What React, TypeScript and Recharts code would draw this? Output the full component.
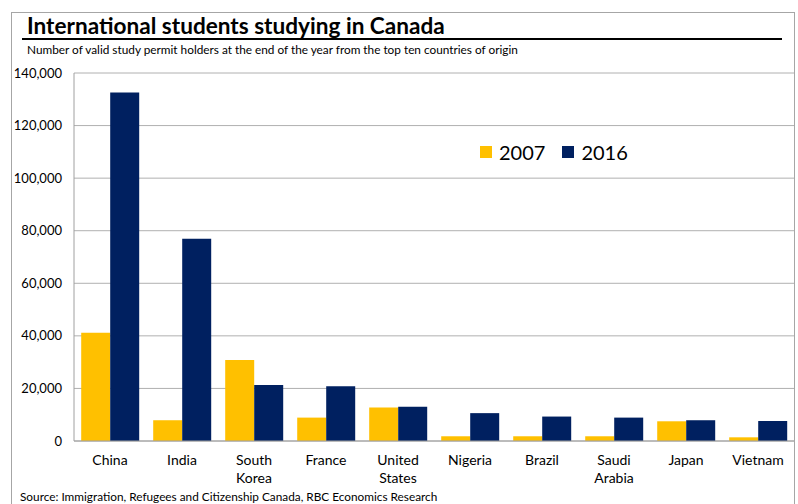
import { BarChart, Bar, XAxis, YAxis, CartesianGrid } from "recharts";

const countries = [
  "China",
  "India",
  "South Korea",
  "France",
  "United States",
  "Nigeria",
  "Brazil",
  "Saudi Arabia",
  "Japan",
  "Vietnam",
];
const students2007 = [41200, 7900, 30800, 8900, 12700, 1800, 1800, 1800, 7500, 1400];
const students2016 = [132600, 76900, 21300, 20800, 13000, 10600, 9300, 8900, 7900, 7600];
const yTicks = [0, 20000, 40000, 60000, 80000, 100000, 120000, 140000];
const seriesNames = ["2007", "2016"];
const seriesColors = ["#FFC000", "#002060"];

const data = countries.map((c, i) => ({
  country: c,
  y2007: students2007[i],
  y2016: students2016[i],
}));

const FONT = "Lato, 'Open Sans', sans-serif";

function CountryTick(props: any) {
  const { x, y, payload } = props;
  const lines = String(payload.value).split(" ");
  return (
    <text x={x} y={y + 16} textAnchor="middle" fontSize={14} fill="#000" fontFamily={FONT}>
      {lines.map((l, i) => (
        <tspan key={i} x={x} dy={i === 0 ? 0 : 18}>
          {l}
        </tspan>
      ))}
    </text>
  );
}

export default function App() {
  return (
    <div
      style={{
        position: "absolute",
        left: 0,
        top: 0,
        width: 798,
        height: 504,
        background: "#fff",
        overflow: "hidden",
        fontFamily: FONT,
      }}
    >
      {/* frame */}
      <div
        style={{
          position: "absolute",
          left: 11,
          top: 12,
          width: 782,
          height: 520,
          border: "1px solid #a6a6a6",
        }}
      />

      <div
        style={{
          position: "absolute",
          left: 27,
          top: 13,
          fontSize: 22.6,
          fontWeight: 700,
          color: "#000",
          lineHeight: "25px",
        }}
      >
        International students studying in Canada
      </div>
      <div
        style={{
          position: "absolute",
          left: 22,
          top: 38,
          width: 760,
          height: 2,
          background: "#000",
        }}
      />
      <div
        style={{
          position: "absolute",
          left: 27,
          top: 42,
          fontSize: 11.8,
          color: "#000",
          lineHeight: "15px",
        }}
      >
        Number of valid study permit holders at the end of the year from the top ten countries of origin
      </div>

      <div style={{ position: "absolute", left: 0, top: 0 }}>
        <BarChart
          width={798}
          height={504}
          data={data}
          margin={{ top: 73, right: 4, left: 0, bottom: 0 }}
          barCategoryGap="10%"
          barGap={0}
        >
          <CartesianGrid vertical={false} stroke="#b0b0b0" />
          <XAxis
            dataKey="country"
            interval={0}
            height={63}
            tickLine={false}
            axisLine={{ stroke: "#a0a0a0" }}
            tick={<CountryTick />}
          />
          <YAxis
            width={74}
            domain={[0, 140000]}
            ticks={yTicks}
            tickLine={false}
            tickSize={10}
            tickMargin={2}
            axisLine={{ stroke: "#a0a0a0" }}
            tickFormatter={(v: number) => v.toLocaleString("en-US")}
            tick={{ fontSize: 13, fill: "#000", fontFamily: FONT }}
          />
          <Bar dataKey="y2007" name={seriesNames[0]} fill={seriesColors[0]} isAnimationActive={false} />
          <Bar dataKey="y2016" name={seriesNames[1]} fill={seriesColors[1]} isAnimationActive={false} />
        </BarChart>
      </div>

      {/* legend */}
      <div
        style={{
          position: "absolute",
          left: 480,
          top: 140,
          display: "flex",
          alignItems: "center",
          fontSize: 20,
          color: "#000",
        }}
      >
        {seriesNames.map((n, i) => (
          <div key={n} style={{ display: "flex", alignItems: "center", marginRight: 17 }}>
            <span
              style={{
                display: "inline-block",
                width: 12,
                height: 12,
                background: seriesColors[i],
                marginRight: 7,
              }}
            />
            <span>{n}</span>
          </div>
        ))}
      </div>

      <div
        style={{
          position: "absolute",
          left: 20,
          top: 489,
          fontSize: 11.8,
          color: "#000",
          lineHeight: "15px",
        }}
      >
        Source: Immigration, Refugees and Citizenship Canada, RBC Economics Research
      </div>
    </div>
  );
}
